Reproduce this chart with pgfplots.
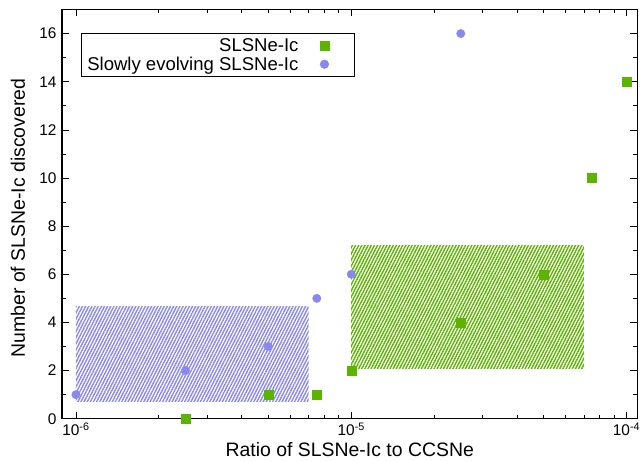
\documentclass[border=0pt]{standalone}
\usepackage{fontspec}
\setmainfont{Liberation Sans}
\usepackage{pgfplots}
\pgfplotsset{compat=1.18}
\usetikzlibrary{patterns.meta}
\definecolor{cgreen}{RGB}{92,180,0}
\definecolor{cblue}{RGB}{136,136,240}
\begin{document}
\begin{tikzpicture}
\useasboundingbox (-62bp,-43.3bp) rectangle (580bp,418.7bp);
\begin{axis}[
  at={(0,0)}, anchor=south west,
  scale only axis, width=575.5bp, height=409.2bp,
  xmode=log, xmin=8.9e-7, xmax=1.096e-4, ymin=0, ymax=17,
  xtick={1e-6,1e-5,1e-4},
  xticklabels={10\textsuperscript{-6},10\textsuperscript{-5},10\textsuperscript{-4}},
  ytick={0,2,...,16}, minor ytick={1,3,...,15},
  /pgf/number format/assume math mode=true,
  tick align=inside,
  major tick length=7bp, minor tick length=4bp,
  axis line style={line width=1.1pt},
  tick style={black, line width=0.7pt},
  ticklabel style={font=\fontsize{15.5}{15.5}\selectfont},
  yticklabel style={xshift=-2bp},
  xticklabel style={yshift=-1bp},
  label style={font=\fontsize{19.5}{19.5}\selectfont},
  xlabel={Ratio of SLSNe-Ic to CCSNe},
  ylabel={Number of SLSNe-Ic discovered},
  xlabel style={at={(axis description cs:0.5,-0.0929)}, anchor=base},
  ylabel style={at={(axis description cs:-0.0643,0.4905)}, anchor=base, rotate=0},
  legend plot pos=right,
  legend cell align=right,
  legend style={at={(0,1)}, anchor=north west, xshift=19bp, yshift=-23.5bp,
    draw=black, line width=0.7pt, font=\fontsize{18.6}{22}\selectfont,
    inner xsep=4bp, inner ysep=3bp},
  legend image code/.code={\path[draw=none,fill=none] (0bp,0bp) (50bp,0bp); \draw[#1] plot coordinates {(24bp,0bp)};},
]
\addplot[draw=none, pattern={Lines[angle=63, distance=2.8bp, line width=1.4bp]}, pattern color=cblue, forget plot]
  coordinates {(1e-6,0.7) (7e-6,0.7) (7e-6,4.65) (1e-6,4.65)};
\addplot[draw=none, pattern={Lines[angle=63, distance=2.8bp, line width=1.4bp]}, pattern color=cgreen, forget plot]
  coordinates {(1e-5,2.1) (7e-5,2.1) (7e-5,7.2) (1e-5,7.2)};
\addplot[only marks, mark=square*, mark size=4.5bp, color=cgreen]
  coordinates {(2.5e-6,0) (5e-6,1) (7.5e-6,1) (1e-5,2) (2.5e-5,4) (5e-5,6) (7.5e-5,10) (1e-4,14)};
\addlegendentry{SLSNe-Ic}
\addplot[only marks, mark=*, mark size=4.2bp, color=cblue]
  coordinates {(1e-6,1) (2.5e-6,2) (5e-6,3) (7.5e-6,5) (1e-5,6) (2.5e-5,16)};
\addlegendentry{Slowly evolving SLSNe-Ic}
\end{axis}
\end{tikzpicture}
\end{document}
